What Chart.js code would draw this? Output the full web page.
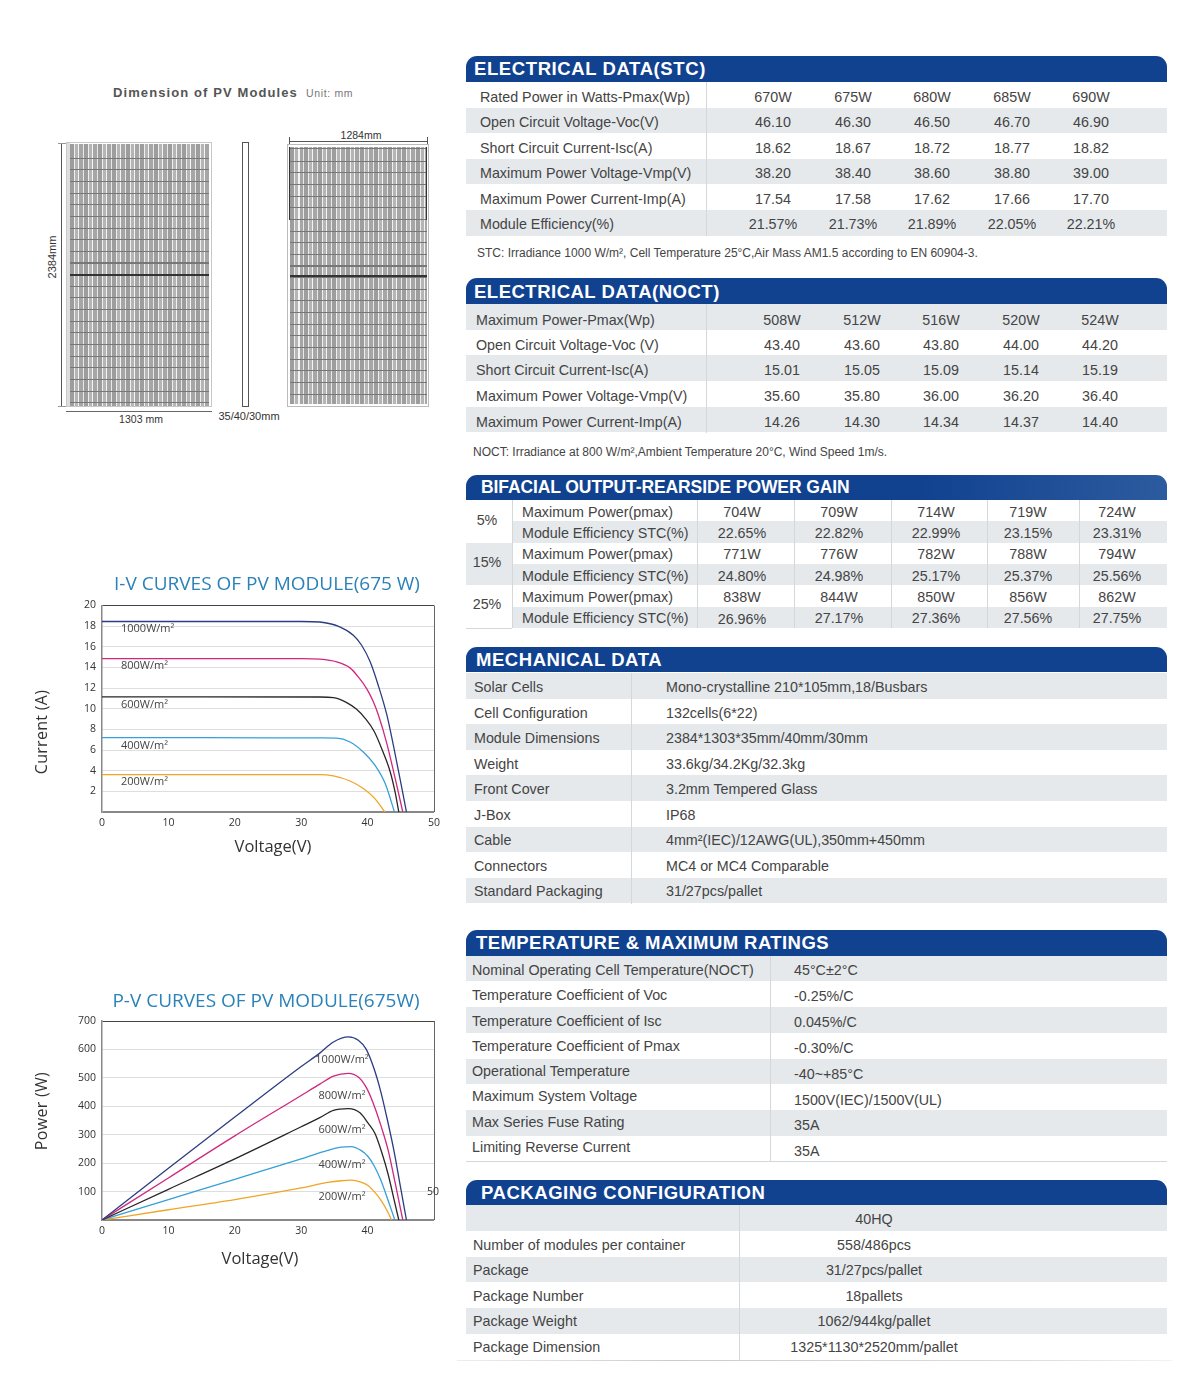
<!DOCTYPE html>
<html>
<head>
<meta charset="utf-8">
<title>PV module datasheet</title>
<script src="https://cdn.jsdelivr.net/npm/chart.js@4/dist/chart.umd.min.js"></script>
<style>
  html, body { margin: 0; padding: 0; background: #fff; }
  #page { position: relative; width: 1200px; height: 1396px; overflow: hidden; font-family: "Liberation Sans", Arial, sans-serif; color: #444; }
  #page div, #page canvas { position: absolute; }
  .txt { white-space: nowrap; line-height: 1; }
  .cells { background-color: #aaa; background-image:
    repeating-linear-gradient(180deg, transparent 0 10.6px, #777 10.6px 11.65px),
    repeating-linear-gradient(90deg, #9d9d9d 0 4px, #eee 4px 5px, #b5b5b5 5px 8px, #f4f4f4 8px 9.5px, #a6a6a6 9.5px 13px, #e8e8e8 13px 14px);
    background-position: 0 3px, 0 0; }
</style>
</head>
<body>
<div id="page"></div>
<script>
// ---- chart data ----
const irradianceLabels = ["1000W/m²", "800W/m²", "600W/m²", "400W/m²", "200W/m²"];
const curveColors = ["#2c3c82", "#d0277f", "#2a2526", "#35a0d8", "#f0a526"];

const ivTicksX = [0, 10, 20, 30, 40, 50];
const ivTicksY = [2, 4, 6, 8, 10, 12, 14, 16, 18, 20];
const pvTicksX = [0, 10, 20, 30, 40];
const pvTicksY = [100, 200, 300, 400, 500, 600, 700];

const ivVolts1000 = [0, 15, 30, 32.8, 35.8, 37.85, 39.1, 40.4, 41.6, 42.9, 43.9, 45.1, 45.85];
const ivAmps1000 = [18.45, 18.45, 18.45, 18.4, 17.93, 17.12, 16.15, 14.53, 12.28, 9.4, 6.4, 2.5, 0];
const ivVolts800 = [0, 15, 30, 32.8, 35.35, 37.35, 38.6, 39.9, 40.85, 41.6, 42.9, 44.1, 45.3];
const ivAmps800 = [14.85, 14.85, 14.85, 14.8, 14.54, 13.96, 13.08, 11.9, 10.7, 9.44, 6.63, 3.4, 0];
const ivVolts600 = [0, 15, 32.8, 34.85, 36.85, 38.35, 39.6, 41, 42.3, 43.4, 44.15, 44.7];
const ivAmps600 = [11.15, 11.15, 11.14, 11.08, 10.6, 9.95, 9.1, 7.8, 5.85, 3.9, 1.9, 0];
const ivVolts400 = [0, 15, 32.8, 35.35, 37.35, 39.35, 41.1, 42.65, 44.05];
const ivAmps400 = [7.2, 7.2, 7.17, 7.15, 6.78, 5.81, 4.53, 2.75, 0];
const ivVolts200 = [0, 15, 32.8, 34.85, 37.35, 39.35, 41.1, 42.6];
const ivAmps200 = [3.62, 3.62, 3.62, 3.49, 3.0, 2.27, 1.3, 0];

const pvVolts1000 = [0, 10, 20, 30, 32.8, 34.85, 37.1, 38.6, 39.8, 41, 42, 43, 44, 45, 45.85];
const pvWatts1000 = [0, 182, 362, 540, 587, 626, 644, 632, 600, 530, 450, 350, 240, 110, 0];
const pvVolts800 = [0, 10, 20, 30, 32.8, 34.85, 37.1, 38.6, 39.9, 41.1, 42.1, 43.1, 44.2, 45.3];
const pvWatts800 = [0, 148, 296, 438, 478, 506, 516, 503, 462, 395, 325, 245, 125, 0];
const pvVolts600 = [0, 10, 20, 30, 32.8, 34.85, 37.1, 38.85, 40.1, 41.1, 42.1, 43.1, 44, 44.7];
const pvWatts600 = [0, 108, 215, 328, 360, 386, 392, 377, 340, 305, 240, 160, 70, 0];
const pvVolts400 = [0, 10, 20, 30, 34, 36, 37.5, 39, 40, 41, 42, 43, 44.1];
const pvWatts400 = [0, 72, 143, 215, 245, 256, 258, 245, 225, 190, 140, 75, 0];
const pvVolts200 = [0, 10, 20, 30, 34, 36, 37.5, 39, 40, 41, 42, 43, 43.6];
const pvWatts200 = [0, 36, 72, 113, 132, 138, 140, 133, 122, 100, 70, 30, 0];

// ---- table data ----
const stcLabels = ["Rated Power in Watts-Pmax(Wp)", "Open Circuit Voltage-Voc(V)", "Short Circuit Current-Isc(A)", "Maximum Power Voltage-Vmp(V)", "Maximum Power Current-Imp(A)", "Module Efficiency(%)"];
const stcValues = [
  ["670W", "675W", "680W", "685W", "690W"],
  ["46.10", "46.30", "46.50", "46.70", "46.90"],
  ["18.62", "18.67", "18.72", "18.77", "18.82"],
  ["38.20", "38.40", "38.60", "38.80", "39.00"],
  ["17.54", "17.58", "17.62", "17.66", "17.70"],
  ["21.57%", "21.73%", "21.89%", "22.05%", "22.21%"]
];
const nooctLabels = ["Maximum Power-Pmax(Wp)", "Open Circuit Voltage-Voc (V)", "Short Circuit Current-Isc(A)", "Maximum Power Voltage-Vmp(V)", "Maximum Power Current-Imp(A)"];
const nooctValues = [
  ["508W", "512W", "516W", "520W", "524W"],
  ["43.40", "43.60", "43.80", "44.00", "44.20"],
  ["15.01", "15.05", "15.09", "15.14", "15.19"],
  ["35.60", "35.80", "36.00", "36.20", "36.40"],
  ["14.26", "14.30", "14.34", "14.37", "14.40"]
];
const gainLabels = ["5%", "15%", "25%"];
const gainRowLabels = ["Maximum Power(pmax)", "Module Efficiency STC(%)"];
const gainValues = [
  ["704W", "709W", "714W", "719W", "724W"],
  ["22.65%", "22.82%", "22.99%", "23.15%", "23.31%"],
  ["771W", "776W", "782W", "788W", "794W"],
  ["24.80%", "24.98%", "25.17%", "25.37%", "25.56%"],
  ["838W", "844W", "850W", "856W", "862W"],
  ["26.96%", "27.17%", "27.36%", "27.56%", "27.75%"]
];
const mechLabels = ["Solar Cells", "Cell Configuration", "Module Dimensions", "Weight", "Front Cover", "J-Box", "Cable", "Connectors", "Standard Packaging"];
const mechValues = ["Mono-crystalline 210*105mm,18/Busbars", "132cells(6*22)", "2384*1303*35mm/40mm/30mm", "33.6kg/34.2Kg/32.3kg", "3.2mm Tempered Glass", "IP68", "4mm²(IEC)/12AWG(UL),350mm+450mm", "MC4 or MC4 Comparable", "31/27pcs/pallet"];
const tempLabels = ["Nominal Operating Cell Temperature(NOCT)", "Temperature Coefficient of Voc", "Temperature Coefficient of Isc", "Temperature Coefficient of Pmax", "Operational Temperature", "Maximum System Voltage", "Max Series Fuse Rating", "Limiting Reverse Current"];
const tempValues = ["45°C±2°C", "-0.25%/C", "0.045%/C", "-0.30%/C", "-40~+85°C", "1500V(IEC)/1500V(UL)", "35A", "35A"];
const packLabels = ["", "Number of modules per container", "Package", "Package Number", "Package Weight", "Package Dimension"];
const packValues = ["40HQ", "558/486pcs", "31/27pcs/pallet", "18pallets", "1062/944kg/pallet", "1325*1130*2520mm/pallet"];

// ---- small page helpers ----
const page = document.getElementById("page");
const BLUE = "#114290";
const GREY = "#e5e9ec";
const LINE = "#d3d8db";

function box(x, y, w, h, css) {
  const d = document.createElement("div");
  d.style.cssText = `left:${x}px;top:${y}px;width:${w}px;height:${h}px;${css || ""}`;
  page.appendChild(d);
  return d;
}

// y is the middle of the text; align is left / center
function put(str, x, y, opts) {
  const o = opts || {};
  const d = document.createElement("div");
  d.className = "txt";
  d.textContent = str;
  const tx = o.align === "center" ? "-50%" : "0";
  d.style.cssText = `left:${x}px;top:${y}px;transform:translate(${tx},-50%) ${o.rotate ? "rotate(" + o.rotate + "deg)" : ""};font-size:${o.size || 14.3}px;` +
    `color:${o.color || "#444"};font-weight:${o.weight || "normal"};letter-spacing:${o.spacing || 0}px;font-family:${o.font || "inherit"};`;
  page.appendChild(d);
  return d;
}

function header(str, x, y, h, textX, size, spacing, css) {
  box(x, y, 1167 - x, h, `background:${BLUE};border-radius:11px 11px 0 0;${css || ""}`);
  put(str, textX, y + h / 2 + 0.5, { size: size, color: "#fff", weight: "bold", spacing: spacing });
}

function bands(rows, top, rowH, firstGrey, x) {
  for (let i = 0; i < rows; i++) {
    if ((i % 2 === 0) === firstGrey) box(x, top + i * rowH, 1167 - x, rowH, `background:${GREY}`);
  }
}

// ---- electrical STC ----
header("ELECTRICAL DATA(STC)", 466, 56, 25.5, 474, 18.5, 0.6);
bands(6, 82, 25.6, false, 466);
box(706, 82, 1, 153.6, `background:${LINE}`);
const stcX = [773, 853, 932, 1012, 1091];
const stcY = [97, 122, 148, 173, 199, 224];
stcLabels.forEach((label, r) => {
  put(label, 480, stcY[r], {});
  stcValues[r].forEach((v, c) => put(v, stcX[c], stcY[r], { align: "center" }));
});
put("STC: Irradiance 1000 W/m², Cell Temperature 25°C,Air Mass AM1.5 according to EN 60904-3.", 477, 253, { size: 12 });

// ---- electrical NOCT ----
header("ELECTRICAL DATA(NOCT)", 466, 278, 26, 474, 18.5, 0.5);
bands(5, 304, 25.7, true, 466);
box(706, 304, 1, 128.5, `background:${LINE}`);
const nooctX = [782, 862, 941, 1021, 1100];
const nooctY = [320, 345, 370, 396, 422];
nooctLabels.forEach((label, r) => {
  put(label, 476, nooctY[r], {});
  nooctValues[r].forEach((v, c) => put(v, nooctX[c], nooctY[r], { align: "center" }));
});
put("NOCT: Irradiance at 800 W/m²,Ambient Temperature 20°C, Wind Speed 1m/s.", 473, 452, { size: 12 });

// ---- bifacial gain ----
header("BIFACIAL OUTPUT-REARSIDE POWER GAIN", 466, 475, 25, 481, 17.5, -0.1, "background:linear-gradient(90deg,#114290 65%,#2d5b9f 100%);");
bands(6, 500, 21.35, false, 512);
box(466, 542.7, 46, 42.7, `background:${GREY}`);
box(466, 627.7, 46, 1, `background:${LINE}`);
[512, 697, 794, 891, 987, 1079].forEach(x => box(x, 500, 1, 128, `background:${LINE}`));
const gainX = [742, 839, 936, 1028, 1117];
const gainY = [512, 533, 554, 576, 597, 618];
gainLabels.forEach((label, i) => put(label, 487, [520, 562, 604][i], { align: "center" }));
gainValues.forEach((row, r) => {
  put(gainRowLabels[r % 2], 522, gainY[r], {});
  row.forEach((v, c) => put(v, gainX[c], gainY[r] + (r === 5 && c === 0 ? 1 : 0), { align: "center" }));
});

// ---- mechanical ----
header("MECHANICAL DATA", 466, 647, 25, 476, 18.5, 0.55);
bands(9, 673, 25.6, true, 466);
box(631, 673, 1, 231, `background:${LINE}`);
mechLabels.forEach((label, r) => {
  put(label, 474, 687 + r * 25.5, {});
  put(mechValues[r], 666, 687 + r * 25.5, {});
});

// ---- temperature ----
header("TEMPERATURE & MAXIMUM RATINGS", 466, 930, 25.5, 476, 18.5, 0.43);
bands(8, 955.7, 25.7, true, 466);
box(770, 955.7, 1, 206, `background:${LINE}`);
box(466, 1161.3, 701, 1, `background:${LINE}`);
const tempLabelY = [970, 995, 1021, 1046, 1071, 1096, 1122, 1147];
const tempValueY = [970, 996, 1022, 1048, 1074, 1100, 1125, 1151];
tempLabels.forEach((label, r) => {
  put(label, 472, tempLabelY[r], {});
  put(tempValues[r], 794, tempValueY[r], {});
});

// ---- packaging ----
header("PACKAGING CONFIGURATION", 466, 1180, 25, 481, 18.5, 0.55);
bands(6, 1205, 25.8, true, 466);
box(739, 1205, 1, 155, `background:${LINE}`);
box(457, 1360, 715, 1, `background:linear-gradient(90deg,#eee,#ccc 30%,#ddd 80%,#f2f2f2)`);
const packY = [1219, 1245, 1270, 1296, 1321, 1347];
packLabels.forEach((label, r) => {
  if (label) put(label, 473, packY[r], {});
  put(packValues[r], 874, packY[r], { align: "center" });
});

// ---- module drawings ----
put("Dimension of PV Modules", 113, 92, { size: 13, color: "#555", weight: "bold", spacing: 1.1 });
put("Unit: mm", 306, 93, { size: 10.5, color: "#777", spacing: 0.65 });

box(66, 142, 146, 265, "background:#fff;border:1px solid #c8c8c8;box-sizing:border-box;");
box(67, 143, 3, 263, "background:#ddd");
box(70, 144, 139, 261.5, "").className = "cells";
box(70, 274.4, 139, 1.6, "background:#333");
box(60.5, 144, 1, 262, "background:#555");
box(58, 143, 8, 1, "background:#999");
box(58, 406, 8, 1, "background:#999");
box(66, 411, 146, 1, "background:#666");
put("2384mm", 52, 257, { align: "center", size: 11, rotate: -90, color: "#333" });
put("1303 mm", 141, 419, { align: "center", size: 10.5, color: "#333" });

box(241.5, 142, 7.5, 265, "background:#fff;border:1px solid #555;box-sizing:border-box;");
put("35/40/30mm", 249, 416, { align: "center", size: 11, color: "#333" });

box(287, 144, 142, 263, "background:#fff;border:1px solid #bbb;box-sizing:border-box;");
box(289.5, 147, 137, 257, "").className = "cells";
box(289.5, 275, 137, 1.8, "background:#333");
box(289, 147, 1, 73, "background:#333");
box(426, 147, 1, 73, "background:#333");
box(289, 141, 138, 1, "background:#555");
box(288.5, 137, 1, 7, "background:#555");
box(426.5, 137, 1, 7, "background:#555");
put("1284mm", 361, 135, { align: "center", size: 10.5, color: "#333" });

// ---- curve charts ----
const CHART_FONT = '"Open Sans", "Noto Sans", sans-serif';
const TITLE_BLUE = "#2b82b8";

function zip(xs, ys) {
  return xs.map((x, i) => ({ x: x, y: ys[i] }));
}

function curveSets(series) {
  return series.map((pts, i) => ({
    label: irradianceLabels[i],
    data: pts,
    showLine: true,
    borderColor: curveColors[i],
    borderWidth: 1.3,
    pointRadius: 0,
    cubicInterpolationMode: "monotone"
  }));
}

function makeChart(left, top, w, h, area, datasets, ticksX, ticksY, maxX, maxY) {
  const canvas = document.createElement("canvas");
  canvas.style.cssText = `left:${left}px;top:${top}px;`;
  canvas.width = w;
  canvas.height = h;
  page.appendChild(canvas);
  new Chart(canvas, {
    type: "scatter",
    data: { datasets: datasets },
    options: {
      responsive: false,
      animation: false,
      layout: { padding: { top: area.top, right: area.right, left: 0, bottom: 0 } },
      plugins: { legend: { display: false }, tooltip: { enabled: false } },
      scales: {
        x: {
          type: "linear", min: 0, max: maxX,
          afterBuildTicks: s => { s.ticks = [0, 10, 20, 30, 40, 50].map(v => ({ value: v })); },
          afterFit: s => { s.height = area.bottom; },
          ticks: {
            padding: 5, maxRotation: 0, autoSkip: false, color: "#333",
            font: { family: CHART_FONT, size: 10.5 },
            callback: v => ticksX.includes(v) ? String(v) : ""
          },
          grid: { drawTicks: false, color: c => c.tick && c.tick.value === maxX ? "#666" : "rgba(0,0,0,0)", lineWidth: 1 },
          border: { display: false }
        },
        y: {
          type: "linear", min: 0, max: maxY,
          afterBuildTicks: s => { s.ticks = [0].concat(ticksY).map(v => ({ value: v })); },
          afterFit: s => { s.width = area.left; },
          ticks: {
            padding: 6, autoSkip: false, color: "#333",
            font: { family: CHART_FONT, size: 10.5 },
            callback: v => v === 0 ? "" : String(v)
          },
          grid: {
            drawTicks: false,
            color: c => c.tick.value === maxY ? "#444" : c.tick.value === 0 ? "#888" : "#dedede",
            lineWidth: c => c.tick.value === 0 ? 2 : 1
          },
          border: { display: true, color: "#888", width: 1.5 }
        }
      }
    }
  });
}

const ivSeries = [zip(ivVolts1000, ivAmps1000), zip(ivVolts800, ivAmps800), zip(ivVolts600, ivAmps600), zip(ivVolts400, ivAmps400), zip(ivVolts200, ivAmps200)];
const pvSeries = [zip(pvVolts1000, pvWatts1000), zip(pvVolts800, pvWatts800), zip(pvVolts600, pvWatts600), zip(pvVolts400, pvWatts400), zip(pvVolts200, pvWatts200)];

makeChart(30, 570, 420, 290, { left: 72, top: 35.5, right: 16, bottom: 48 }, curveSets(ivSeries), ivTicksX, ivTicksY, 50, 20);
makeChart(30, 985, 420, 290, { left: 72, top: 36, right: 16, bottom: 55 }, curveSets(pvSeries), pvTicksX, pvTicksY, 50, 700);

put("I-V CURVES OF PV MODULE(675 W)", 267, 583, { align: "center", size: 19, color: TITLE_BLUE, font: CHART_FONT });
put("P-V CURVES OF PV MODULE(675W)", 266, 999.5, { align: "center", size: 19, color: TITLE_BLUE, font: CHART_FONT });
put("Current (A)", 41, 732, { align: "center", size: 16, rotate: -90, color: "#333", font: CHART_FONT, spacing: 0.3 });
put("Voltage(V)", 273, 846, { align: "center", size: 16.5, color: "#333", font: CHART_FONT });
put("Power  (W)", 41, 1111, { align: "center", size: 16, rotate: -90, color: "#333", font: CHART_FONT, spacing: 0.3 });
put("Voltage(V)", 260, 1258, { align: "center", size: 16.5, color: "#333", font: CHART_FONT });

const ivLabelY = [627, 664, 703, 744, 780];
const pvLabelY = [1058, 1094, 1128, 1163, 1195];
irradianceLabels.forEach((label, i) => {
  put(label, 121, ivLabelY[i], { size: 11, color: "#444", font: CHART_FONT });
  put(label, 342, pvLabelY[i], { align: "center", size: 11, color: "#444", font: CHART_FONT });
});
put("50", 433, 1191, { align: "center", size: 10.5, color: "#333", font: CHART_FONT });
</script>
</body>
</html>
